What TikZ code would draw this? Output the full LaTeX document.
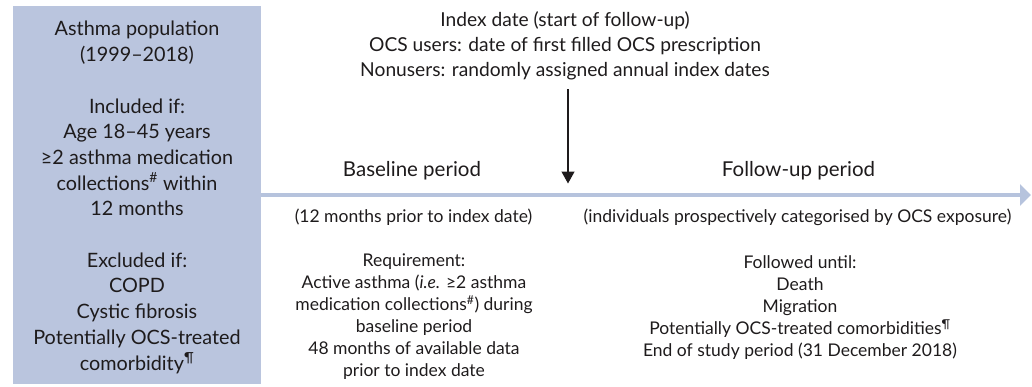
\documentclass[tikz,border=0pt]{standalone}
\usepackage{fontspec}
\setmainfont{Lato}
\usetikzlibrary{arrows.meta}
\definecolor{panelblue}{HTML}{BAC5DE}
\definecolor{lineblue}{HTML}{B6C3DD}
\definecolor{ink}{HTML}{1E1B1C}
\tikzset{
  boxtext/.style={font=\fontsize{19.8}{25.7}\selectfont, align=center, anchor=base, inner sep=0pt, text=ink},
  toptext/.style={font=\fontsize{19.2}{25}\selectfont, align=center, anchor=base, inner sep=0pt, text=ink},
  periodlabel/.style={font=\fontsize{20.5}{24}\selectfont, anchor=base, inner sep=0pt, text=ink},
  bodytext/.style={font=\fontsize{17.5}{22}\selectfont, align=center, anchor=base, inner sep=0pt, text=ink},
}
\begin{document}
\begin{tikzpicture}[x=1pt,y=-1pt]
\useasboundingbox (0,0) rectangle (1032,386);
% study population panel (multi-line nodes sit on their last baseline)
\fill[panelblue] (13,6) rectangle (261,384);
\node[boxtext] (population) at (137,370) {Asthma population\\(1999--2018)\\[25.7pt]
  Included if:\\Age 18--45 years\\≥2 asthma medication\\collections\textsuperscript{\#} within\\12 months\\[25.7pt]
  Excluded if:\\COPD\\Cystic fibrosis\\Potentially OCS-treated\\comorbidity\textsuperscript{¶}};
% time axis
\coordinate (axisstart) at (261,195);
\coordinate (axisend) at (1031,195);
\draw[lineblue, line width=4.5pt, -{Triangle[length=11pt,width=21pt]}] (axisstart) -- (axisend);
% index date
\node[toptext] (index) at (565,76) {Index date (start of follow-up)\\OCS users: date of first filled OCS prescription\\Nonusers: randomly assigned annual index dates};
\coordinate (indexfoot) at (568,89);
\coordinate (indextip) at (568,183.5);
\draw[ink, line width=1.3pt, -{Triangle[length=12pt,width=13pt]}] (indexfoot) -- (indextip);
% periods
\node[periodlabel] (baseline) at (412,176) {Baseline period};
\node[periodlabel] (followup) at (798.5,176) {Follow-up period};
\node[bodytext] (baselinenote) at (413.5,222.7) {(12 months prior to index date)};
\node[bodytext] (followupnote) at (797.5,222.7) {(individuals prospectively categorised by OCS exposure)};
\node[bodytext] (requirement) at (414,376.7) {Requirement:\\Active asthma (\textit{i.e.} ≥2 asthma\\medication collections\textsuperscript{\#}) during\\baseline period\\48 months of available data\\prior to index date};
\node[bodytext] (followeduntil) at (800,356.7) {Followed until:\\Death\\Migration\\Potentially OCS-treated comorbidities\textsuperscript{¶}\\End of study period (31 December 2018)};
\end{tikzpicture}
\end{document}
